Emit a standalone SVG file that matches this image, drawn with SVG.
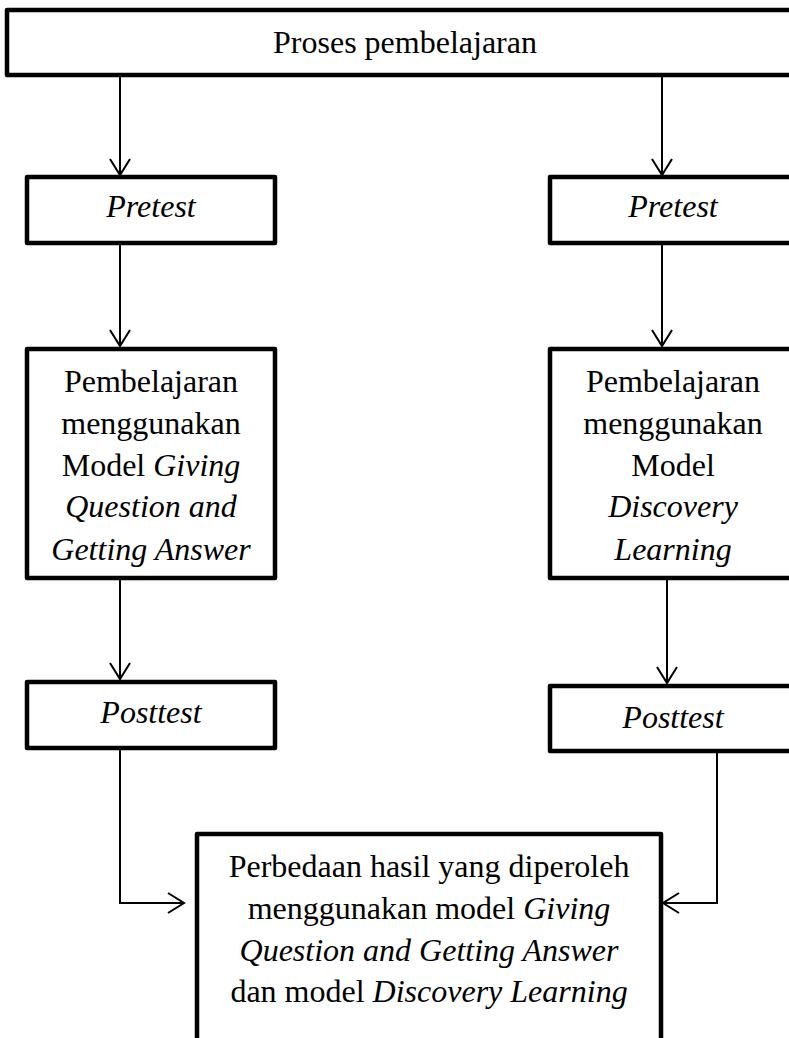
<svg xmlns="http://www.w3.org/2000/svg" width="789" height="1038" viewBox="0 0 789 1038">
<style>
.box{fill:#fff;stroke:#000;stroke-width:4.5;stroke-linejoin:round}
.t{font-family:"Liberation Serif","Times New Roman",serif;font-size:32px;fill:#000;text-anchor:middle}
.i{font-style:italic}
.c{fill:none;stroke:#000;stroke-width:2}
</style>
<defs>
<marker id="ah" markerUnits="userSpaceOnUse" markerWidth="24" markerHeight="24" refX="17" refY="11" orient="auto" viewBox="0 0 24 22">
<path d="M1,1 L17,11 L1,21" fill="none" stroke="#000" stroke-width="2"/>
</marker>
</defs>
<rect width="789" height="1038" fill="#fff"/>
<g id="connectors">
<line class="c" x1="120" y1="77" x2="120" y2="175" marker-end="url(#ah)"/>
<line class="c" x1="662" y1="77" x2="662" y2="175" marker-end="url(#ah)"/>
<line class="c" x1="120" y1="245" x2="120" y2="346" marker-end="url(#ah)"/>
<line class="c" x1="662" y1="245" x2="662" y2="346" marker-end="url(#ah)"/>
<line class="c" x1="120" y1="580" x2="120" y2="679" marker-end="url(#ah)"/>
<line class="c" x1="667" y1="580" x2="667" y2="683" marker-end="url(#ah)"/>
<polyline class="c" points="120,750 120,903 184,903" marker-end="url(#ah)"/>
<polyline class="c" points="717,752 717,903 663,903" marker-end="url(#ah)"/>
</g>
<g id="top">
<rect class="box" x="7" y="10" width="796" height="65"/>
<text class="t" x="405" y="53">Proses pembelajaran</text>
</g>
<g id="pretest-left">
<rect class="box" x="27" y="177" width="248" height="66"/>
<text class="t i" x="151" y="217">Pretest</text>
</g>
<g id="pretest-right">
<rect class="box" x="550" y="177" width="247" height="66"/>
<text class="t i" x="673" y="217">Pretest</text>
</g>
<g id="model-left">
<rect class="box" x="27" y="349" width="248" height="229"/>
<text class="t" x="151" y="392">Pembelajaran</text>
<text class="t" x="151" y="434">menggunakan</text>
<text class="t" x="151" y="476">Model <tspan class="i">Giving</tspan></text>
<text class="t i" x="151" y="517">Question and</text>
<text class="t i" x="151" y="560">Getting Answer</text>
</g>
<g id="model-right">
<rect class="box" x="550" y="349" width="247" height="229"/>
<text class="t" x="673" y="392">Pembelajaran</text>
<text class="t" x="673" y="434">menggunakan</text>
<text class="t" x="673" y="476">Model</text>
<text class="t i" x="673" y="517">Discovery</text>
<text class="t i" x="673" y="560">Learning</text>
</g>
<g id="posttest-left">
<rect class="box" x="27" y="682" width="248" height="66"/>
<text class="t i" x="151" y="723">Posttest</text>
</g>
<g id="posttest-right">
<rect class="box" x="550" y="686" width="247" height="65"/>
<text class="t i" x="673" y="728">Posttest</text>
</g>
<g id="result">
<rect class="box" x="197" y="834" width="464" height="230"/>
<text class="t" x="429" y="877">Perbedaan hasil yang diperoleh</text>
<text class="t" x="429" y="919">menggunakan model <tspan class="i">Giving</tspan></text>
<text class="t i" x="429" y="961">Question and Getting Answer</text>
<text class="t" x="429" y="1002">dan model <tspan class="i">Discovery Learning</tspan></text>
</g>
</svg>
